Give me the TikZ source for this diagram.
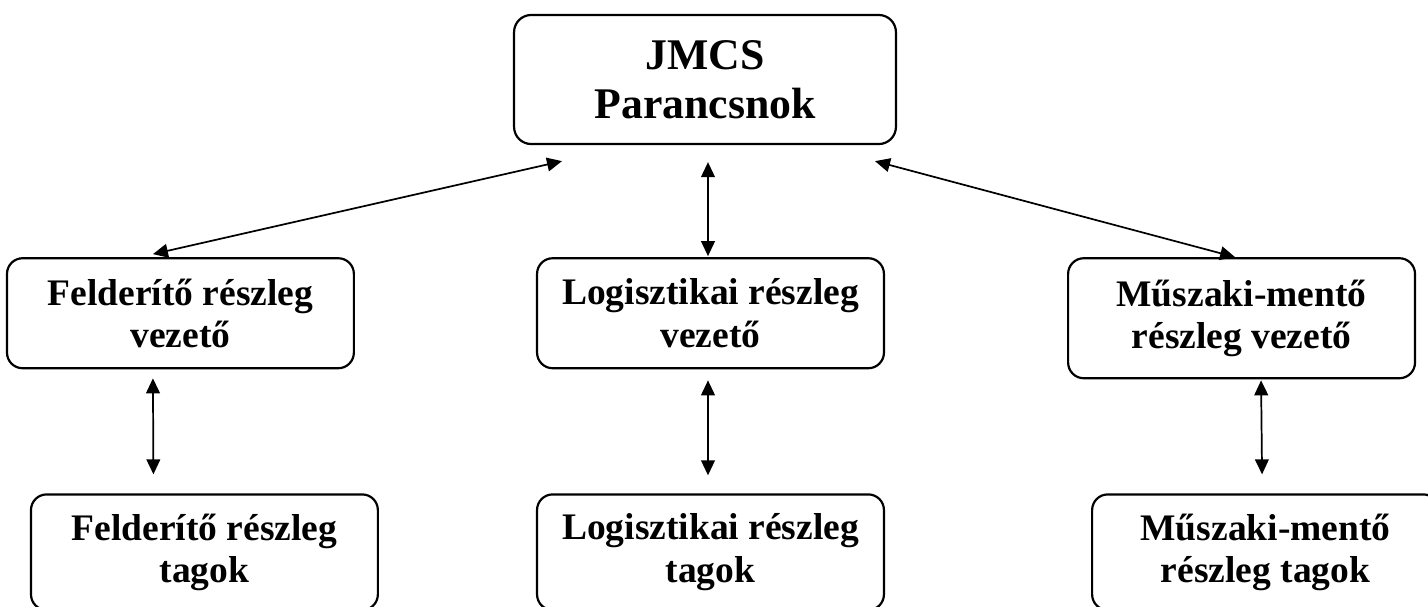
\documentclass[tikz,border=0pt]{standalone}
\usepackage{fontspec}
\setmainfont{Liberation Serif}
\usetikzlibrary{positioning,arrows.meta}

\begin{document}
\begin{tikzpicture}[%
    commander/.style={%
        draw,
        rectangle,
        rounded corners=5.5pt,
        line width=0.7pt,
        align=center,
        minimum width=122.2pt,
        minimum height=41.3pt,
        font=\bfseries\fontsize{14}{15.6}\selectfont
    },
    leader/.style={%
        draw,
        rectangle,
        rounded corners=5pt,
        line width=0.7pt,
        align=center,
        minimum width=111pt,
        minimum height=35.2pt,
        font=\bfseries\fontsize{12}{13.6}\selectfont
    },
    member/.style={%
        draw,
        rectangle,
        rounded corners=5pt,
        line width=0.7pt,
        align=center,
        minimum width=111pt,
        minimum height=37pt,
        font=\bfseries\fontsize{12}{13.6}\selectfont
    },
    link/.style={%
        <->,
        line width=0.55pt
    },
    >={Triangle[length=4.8pt,width=4.4pt]}
]

\useasboundingbox (-225.6pt,-168.48pt) rectangle (231.36pt,25.44pt);

% Commander
\node[commander] (jmcs) at (0,0) {JMCS\\Parancsnok};

% Section leaders
\node[leader, below=35.84pt of jmcs, xshift=1.76pt] (logvez) {Logisztikai részleg\\vezető};
\node[leader, left=57.92pt of logvez] (felvez) {Felderítő részleg\\vezető};
\node[leader, right=58.24pt of logvez.north east, anchor=north west, minimum height=38.4pt] (muszvez) {Műszaki-mentő\\részleg vezető};

% Section members
\node[member, below=39.68pt of logvez] (logtag) {Logisztikai részleg\\tagok};
\node[member, left=50.24pt of logtag] (feltag) {Felderítő részleg\\tagok};
\node[member, right=65.92pt of logtag] (musztag) {Műszaki-mentő\\részleg tagok};

% Arrows
\draw[link] ([xshift=-45.76pt,yshift=-5.12pt]jmcs.south) -- ([xshift=-8.8pt,yshift=0.96pt]felvez.north);
\draw[link] ([xshift=0.96pt,yshift=-5.44pt]jmcs.south) -- ([xshift=-0.8pt,yshift=0.32pt]logvez.north);
\draw[link] ([xshift=54.4pt,yshift=-5.12pt]jmcs.south) -- ([xshift=-2.08pt]muszvez.north);

\draw[link] ([xshift=-8.8pt,yshift=-2.88pt]felvez.south) -- ([xshift=-16.32pt,yshift=6.08pt]feltag.north);
\draw[link] ([xshift=-0.8pt,yshift=-3.52pt]logvez.south) -- ([xshift=-0.8pt,yshift=5.76pt]logtag.north);
\draw[link] ([xshift=6.24pt,yshift=-0.32pt]muszvez.south) -- ([xshift=-1.12pt,yshift=6.08pt]musztag.north);

\end{tikzpicture}
\end{document}
